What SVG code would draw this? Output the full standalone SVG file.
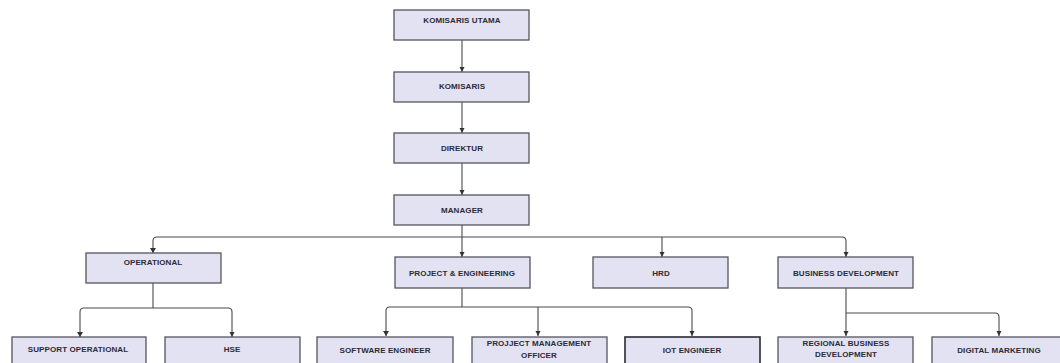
<svg xmlns="http://www.w3.org/2000/svg" width="1060" height="363" viewBox="0 0 1060 363">
<defs>
<marker id="arr" markerUnits="userSpaceOnUse" markerWidth="6" markerHeight="6" refX="5" refY="3" orient="auto">
<path d="M0,0.5 L5,3 L0,5.5 Z" fill="#333"/>
</marker>
<style>
.box{fill:#e3e2f2;stroke:#55555f;stroke-width:1.3}
.t{font-family:"Liberation Sans",Arial,sans-serif;font-weight:bold;font-size:8px;letter-spacing:0.1px;fill:#2b2b36;text-anchor:middle}
.c{fill:none;stroke:#4a4a4a;stroke-width:1.1}
.h{fill:#333}
</style>
</defs>
<rect width="1060" height="363" fill="#ffffff"/>
<g id="connectors">
<path class="c" d="M462,40 V72" marker-end="url(#arr)"/>
<path class="c" d="M462,102 V133" marker-end="url(#arr)"/>
<path class="c" d="M462,163 V195" marker-end="url(#arr)"/>
<path class="c" d="M462,225 V257" marker-end="url(#arr)"/>
<path class="c" d="M153,253 V241 Q153,237 157,237 H842 Q846,237 846,241 V257" marker-end="url(#arr)"/>
<path class="h" d="M150,248 L153,253 L156,248 Z"/>
<path class="c" d="M662,237 V257" marker-end="url(#arr)"/>
<path class="c" d="M153,283 V308"/>
<path class="c" d="M80,337 V312 Q80,308 84,308 H228 Q232,308 232,312 V337" marker-end="url(#arr)"/>
<path class="h" d="M77,332 L80,337 L83,332 Z"/>
<path class="c" d="M462,288 V307"/>
<path class="c" d="M386,336 V311 Q386,307 390,307 H688 Q692,307 692,311 V336" marker-end="url(#arr)"/>
<path class="h" d="M383,331 L386,336 L389,331 Z"/>
<path class="c" d="M538,307 V336" marker-end="url(#arr)"/>
<path class="c" d="M846,288 V336" marker-end="url(#arr)"/>
<path class="c" d="M846,313 H995 Q999,313 999,317 V336" marker-end="url(#arr)"/>
</g>
<g id="komisaris-utama"><rect class="box" x="394" y="10" width="135" height="30"/><text class="t" x="462" y="23">KOMISARIS UTAMA</text></g>
<g id="komisaris"><rect class="box" x="394" y="72" width="135" height="30"/><text class="t" x="462" y="89">KOMISARIS</text></g>
<g id="direktur"><rect class="box" x="394" y="133" width="135" height="30"/><text class="t" x="462" y="151">DIREKTUR</text></g>
<g id="manager"><rect class="box" x="394" y="195" width="135" height="30"/><text class="t" x="462" y="213">MANAGER</text></g>
<g id="operational"><rect class="box" x="86" y="253" width="135" height="30"/><text class="t" x="153" y="265">OPERATIONAL</text></g>
<g id="project-engineering"><rect class="box" x="395" y="257" width="135" height="31"/><text class="t" x="462" y="276">PROJECT &amp; ENGINEERING</text></g>
<g id="hrd"><rect class="box" x="593" y="257" width="135" height="31"/><text class="t" x="661" y="276">HRD</text></g>
<g id="business-development"><rect class="box" x="778" y="257" width="135" height="31"/><text class="t" x="846" y="276">BUSINESS DEVELOPMENT</text></g>
<g id="support-operational"><rect class="box" x="12" y="337" width="134" height="30"/><text class="t" x="78" y="352">SUPPORT OPERATIONAL</text></g>
<g id="hse"><rect class="box" x="165" y="337" width="135" height="30"/><text class="t" x="232" y="352">HSE</text></g>
<g id="software-engineer"><rect class="box" x="317" y="337" width="136" height="30"/><text class="t" x="385" y="353">SOFTWARE ENGINEER</text></g>
<g id="pmo"><rect class="box" x="472" y="337" width="135" height="30"/><text class="t" x="539" y="346">PROJJECT MANAGEMENT</text><text class="t" x="539" y="358">OFFICER</text></g>
<g id="iot-engineer"><rect class="box" x="625" y="337" width="135" height="30" style="stroke:#2a2a33;stroke-width:1.6"/><text class="t" x="692" y="353">IOT ENGINEER</text></g>
<g id="regional-business-development"><rect class="box" x="778" y="337" width="135" height="30"/><text class="t" x="846" y="346">REGIONAL BUSINESS</text><text class="t" x="846" y="357">DEVELOPMENT</text></g>
<g id="digital-marketing"><rect class="box" x="932" y="337" width="135" height="30"/><text class="t" x="999" y="353">DIGITAL MARKETING</text></g>
</svg>
